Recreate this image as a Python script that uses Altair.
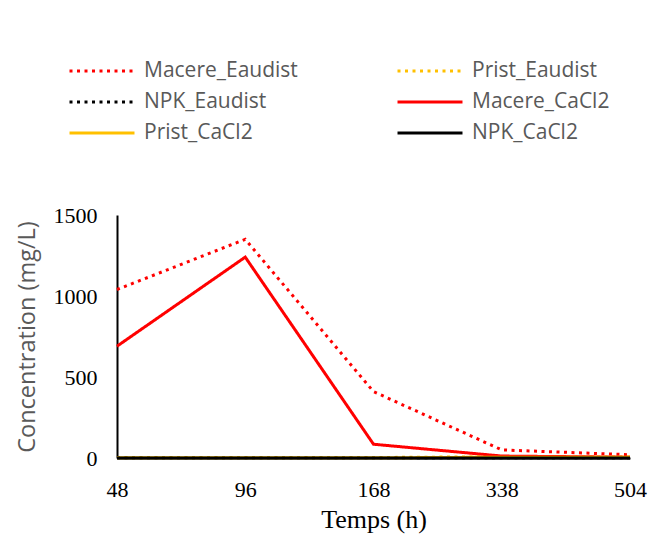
import altair as alt
import pandas as pd

times = ["48", "96", "168", "338", "504"]
series_names = ["Macere_Eaudist", "Prist_Eaudist", "NPK_Eaudist",
                "Macere_CaCl2", "Prist_CaCl2", "NPK_CaCl2"]
macere_eaudist = [1040, 1350, 410, 50, 20]
prist_eaudist = [3, 3, 3, 8, 6]
npk_eaudist = [2, 2, 2, 2, 2]
macere_cacl2 = [690, 1240, 85, 12, 5]
prist_cacl2 = [1, 1, 1, 5, 5]
npk_cacl2 = [0, 0, 0, 0, 0]

series_values = [macere_eaudist, prist_eaudist, npk_eaudist,
                 macere_cacl2, prist_cacl2, npk_cacl2]
series_colors = {"Macere_Eaudist": "#FF0000", "Prist_Eaudist": "#FFC000", "NPK_Eaudist": "#000000",
                 "Macere_CaCl2": "#FF0000", "Prist_CaCl2": "#FFC000", "NPK_CaCl2": "#000000"}
dotted = [3, 4.5]
solid = [1, 0]
series_dash = {"Macere_Eaudist": dotted, "Prist_Eaudist": dotted, "NPK_Eaudist": dotted,
               "Macere_CaCl2": solid, "Prist_CaCl2": solid, "NPK_CaCl2": solid}

# Legend is filled column by column; this order shows the entries row by row
legend_order = ["Macere_Eaudist", "NPK_Eaudist", "Prist_CaCl2",
                "Prist_Eaudist", "Macere_CaCl2", "NPK_CaCl2"]

rows = []
for name, vals in zip(series_names, series_values):
    for i, (t, v) in enumerate(zip(times, vals)):
        rows.append({"series": name, "time": t, "value": v, "time_order": i})
df = pd.DataFrame(rows)

legend = alt.Legend(
    title=None, orient="none", legendX=-33, legendY=-162, columns=2,
    symbolType="M-2,0L2,0", symbolSize=1056, symbolStrokeWidth=3,
    labelFont="Open Sans", labelFontSize=21, labelColor="#595959",
    labelOffset=24, rowPadding=3, columnPadding=93, labelLimit=400,
)

chart = alt.Chart(df).mark_line(strokeWidth=3).encode(
    x=alt.X("time:N", sort=times, scale=alt.Scale(padding=0),
            axis=alt.Axis(title="Temps (h)", labelAngle=0, ticks=False, grid=False,
                          domainColor="#000000", domainWidth=2,
                          labelFont="Liberation Serif", labelFontSize=22, labelColor="#000000",
                          labelPadding=21,
                          titleFont="Liberation Serif", titleFontSize=26, titleFontWeight="normal",
                          titleColor="#000000", titlePadding=6)),
    y=alt.Y("value:Q", scale=alt.Scale(domain=[0, 1500]),
            axis=alt.Axis(title="Concentration (mg/L)", values=[0, 500, 1000, 1500], format="d",
                          ticks=False, grid=False, domainColor="#000000", domainWidth=2,
                          labelFont="Liberation Serif", labelFontSize=22, labelColor="#000000",
                          labelPadding=20,
                          titleFont="Open Sans", titleFontSize=23.5, titleFontWeight="normal",
                          titleColor="#595959", titlePadding=14)),
    color=alt.Color("series:N", sort=legend_order,
                    scale=alt.Scale(domain=legend_order,
                                    range=[series_colors[s] for s in legend_order]),
                    legend=legend),
    strokeDash=alt.StrokeDash("series:N", sort=legend_order,
                              scale=alt.Scale(domain=legend_order,
                                              range=[series_dash[s] for s in legend_order]),
                              legend=legend),
    order=alt.Order("time_order:Q"),
).properties(
    width=513, height=243,
    autosize=alt.AutoSizeParams(type="none"),
    padding={"left": 117, "top": 215, "right": 29, "bottom": 82},
).configure_view(stroke=None)

chart.save("out.html", embed_options={"renderer": "svg", "actions": False})
